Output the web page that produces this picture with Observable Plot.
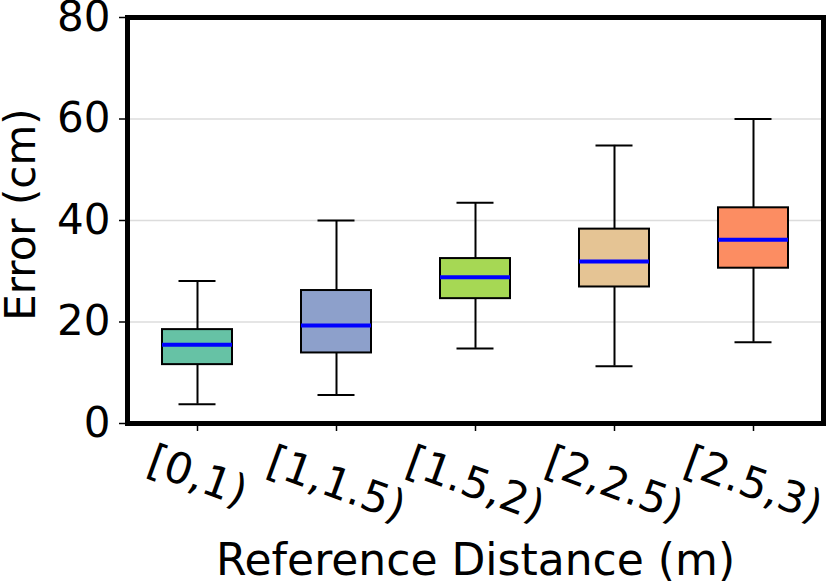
<!DOCTYPE html>
<html><head><meta charset="utf-8">
<script src="https://cdn.jsdelivr.net/npm/d3@7"></script>
<script src="https://cdn.jsdelivr.net/npm/@observablehq/plot@0.6"></script>
<style>body{margin:0;background:#fff}</style>
</head><body><div id="chart"></div>
<script>
const categories = ["[0,1)", "[1,1.5)", "[1.5,2)", "[2,2.5)", "[2.5,3)"];
const whiskerLow = [3.8, 5.6, 14.8, 11.3, 16.0];
const q1 = [11.6, 13.9, 24.6, 26.9, 30.6];
const median = [15.5, 19.3, 28.8, 31.9, 36.2];
const q3 = [18.5, 26.2, 32.5, 38.3, 42.5];
const whiskerHigh = [28.1, 40.0, 43.5, 54.8, 60.0];
const colors = ["#66c2a5", "#8da0cb", "#a6d854", "#e5c494", "#fc8d62"];
const yTicks = [0, 20, 40, 60, 80];
const gridTicks = [20, 40, 60];
const xLabel = "Reference Distance (m)";
const yLabel = "Error (cm)";

const data = categories.map((c, i) => ({cat: c, lo: whiskerLow[i], q1: q1[i], med: median[i], q3: q3[i], hi: whiskerHigh[i]}));

const chart = Plot.plot({
  width: 830, height: 584,
  marginLeft: 127, marginRight: 7, marginTop: 17, marginBottom: 161,
  style: {fontFamily: "DejaVu Sans", fontSize: "42px", background: "white", color: "black"},
  x: {type: "band", domain: categories, paddingInner: 0.5, paddingOuter: 0.25, axis: null},
  y: {domain: [0, 80], axis: null},
  color: {domain: categories, range: colors},
  marks: [
    Plot.gridY(gridTicks, {stroke: "#dcdcdc", strokeOpacity: 1, strokeWidth: 1.5}),
    Plot.ruleX(data, {x: "cat", y1: "q3", y2: "hi", stroke: "black", strokeWidth: 2}),
    Plot.ruleX(data, {x: "cat", y1: "lo", y2: "q1", stroke: "black", strokeWidth: 2}),
    Plot.tickY(data, {x: "cat", y: "hi", stroke: "black", strokeWidth: 2, insetLeft: 16.5, insetRight: 16.5}),
    Plot.tickY(data, {x: "cat", y: "lo", stroke: "black", strokeWidth: 2, insetLeft: 16.5, insetRight: 16.5}),
    Plot.barY(data, {x: "cat", y1: "q1", y2: "q3", fill: "cat", stroke: "black", strokeWidth: 2}),
    Plot.tickY(data, {x: "cat", y: "med", stroke: "#0000ff", strokeWidth: 4}),
    Plot.frame({stroke: "black", strokeWidth: 5}),
    Plot.axisY(yTicks, {tickSize: 8, tickPadding: 9, fontSize: 42, label: null, strokeWidth: 1.5}),
    Plot.axisX({tickSize: 8, tickFormat: () => "", label: null, strokeWidth: 1.5}),
    ...categories.map(c => Plot.text([c], {x: d => d, text: d => d, frameAnchor: "bottom", dy: c.length > 5 ? 61 : 53, rotate: 20, fontSize: 43, textAnchor: "middle", lineAnchor: "middle", fill: "black"})),
    Plot.text([xLabel], {text: d => d, frameAnchor: "bottom", dy: 137, fontSize: 44, textAnchor: "middle", lineAnchor: "middle", fill: "black"}),
    Plot.text([yLabel], {text: d => d, frameAnchor: "left", dx: -106, dy: -6, rotate: -90, fontSize: 42, textAnchor: "middle", lineAnchor: "middle", fill: "black"})
  ]
});
document.getElementById("chart").appendChild(chart);
</script>
</body></html>
